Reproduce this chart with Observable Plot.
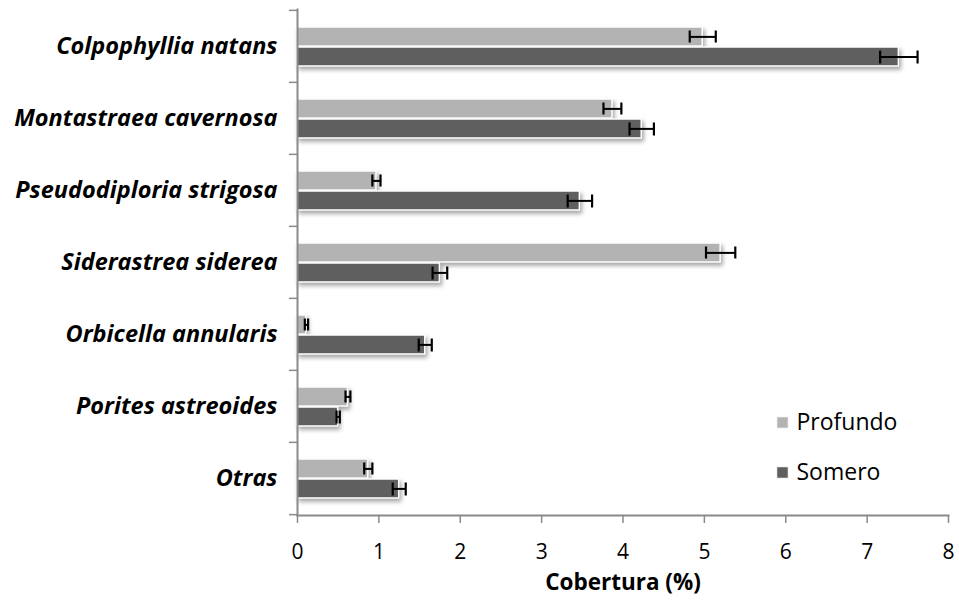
<!DOCTYPE html>
<html>
<head>
<meta charset="utf-8">
<script src="https://cdn.jsdelivr.net/npm/d3@7"></script>
<script src="https://cdn.jsdelivr.net/npm/@observablehq/plot@0.6"></script>
<style>
  html, body { margin: 0; padding: 0; background: #fff; }
  #chart svg { display: block; }
  .bars rect { filter: drop-shadow(2px 3px 2px rgba(0,0,0,0.35)); }
  g[aria-label="x-axis label"] text { font-weight: bold; font-size: 22.5px; }
</style>
</head>
<body>
<div id="chart"></div>
<script>
const species = ["Colpophyllia natans","Montastraea cavernosa","Pseudodiploria strigosa","Siderastrea siderea","Orbicella annularis","Porites astreoides","Otras"];
const series = ["Profundo", "Somero"];
const profundo    = [4.98, 3.87, 0.97, 5.20, 0.11, 0.62, 0.87];
const profundoErr = [0.16, 0.11, 0.05, 0.18, 0.02, 0.03, 0.05];
const somero      = [7.39, 4.23, 3.47, 1.75, 1.57, 0.50, 1.25];
const someroErr   = [0.23, 0.15, 0.15, 0.09, 0.08, 0.02, 0.08];
const xTicks = [0, 1, 2, 3, 4, 5, 6, 7, 8];
const colors = {Profundo: "#b3b3b3", Somero: "#5f5f5f"};

const P = species.map((s, i) => ({species: s, value: profundo[i], err: profundoErr[i]}));
const S = species.map((s, i) => ({species: s, value: somero[i], err: someroErr[i]}));

const axisGray = "#8a8a8a";
const font = "'Open Sans', Lato, sans-serif";

const chart = Plot.plot({
  width: 959,
  height: 602,
  marginLeft: 297,
  marginRight: 11,
  marginTop: 9,
  marginBottom: 87,
  style: {fontFamily: font, fontSize: "21px", color: "#000", background: "#fff"},
  x: {domain: [0, 8]},
  y: {domain: species, padding: 0},
  marks: [
    Plot.barX(P, {x: "value", y: "species", fill: colors.Profundo, stroke: "#fff", strokeWidth: 1.5, insetTop: 17, insetBottom: 36, className: "bars"}),
    Plot.barX(S, {x: "value", y: "species", fill: colors.Somero, stroke: "#fff", strokeWidth: 1.5, insetTop: 37, insetBottom: 16, className: "bars"}),
    // error bars
    Plot.ruleY(P, {y: "species", x1: d => d.value - d.err, x2: d => d.value + d.err, dy: -9.6, stroke: "#000", strokeWidth: 2}),
    Plot.tickX(P, {y: "species", x: d => d.value - d.err, insetTop: 20.5, insetBottom: 39.5, stroke: "#000", strokeWidth: 2.2}),
    Plot.tickX(P, {y: "species", x: d => d.value + d.err, insetTop: 20.5, insetBottom: 39.5, stroke: "#000", strokeWidth: 2.2}),
    Plot.ruleY(S, {y: "species", x1: d => d.value - d.err, x2: d => d.value + d.err, dy: 10.4, stroke: "#000", strokeWidth: 2}),
    Plot.tickX(S, {y: "species", x: d => d.value - d.err, insetTop: 40.5, insetBottom: 18.5, stroke: "#000", strokeWidth: 2.2}),
    Plot.tickX(S, {y: "species", x: d => d.value + d.err, insetTop: 40.5, insetBottom: 18.5, stroke: "#000", strokeWidth: 2.2}),
    // axes lines
    Plot.frame({anchor: "left", stroke: axisGray, strokeWidth: 2}),
    Plot.frame({anchor: "bottom", stroke: axisGray, strokeWidth: 2}),
    // y axis: labels
    Plot.axisY({tickSize: 0, tickPadding: 20, fontWeight: "bold", fontStyle: "italic", fontSize: 23.5, label: null}),
    // y axis: tick marks at band boundaries
    Plot.axisY({tickSize: 8, text: null, stroke: axisGray, strokeWidth: 1.5, dy: -36.14, label: null}),
    Plot.axisY({ticks: [species[species.length - 1]], tickSize: 8, text: null, stroke: axisGray, strokeWidth: 1.5, dy: 36.14, label: null}),
    // x axis
    Plot.axisX({ticks: xTicks, tickSize: 8, tickPadding: 21, stroke: axisGray, strokeWidth: 1.5, tickFormat: d => String(d),
      label: "Cobertura (%)", labelArrow: "none", labelAnchor: "center", labelOffset: 74, fontSize: 21}),
    // legend
    Plot.dot([series[0]], {frameAnchor: "top-left", dx: 485, dy: 413, symbol: "square", r: 6.5, fill: colors.Profundo, stroke: "#fff", strokeWidth: 1}),
    Plot.text([series[0]], {text: d => d, frameAnchor: "top-left", dx: 499, dy: 413, lineAnchor: "middle", textAnchor: "start", fontSize: 23, fill: "#000"}),
    Plot.dot([series[1]], {frameAnchor: "top-left", dx: 485, dy: 463, symbol: "square", r: 6.5, fill: colors.Somero, stroke: "#fff", strokeWidth: 1}),
    Plot.text([series[1]], {text: d => d, frameAnchor: "top-left", dx: 499, dy: 463, lineAnchor: "middle", textAnchor: "start", fontSize: 23, fill: "#000"})
  ]
});
document.getElementById("chart").appendChild(chart);
</script>
</body>
</html>
